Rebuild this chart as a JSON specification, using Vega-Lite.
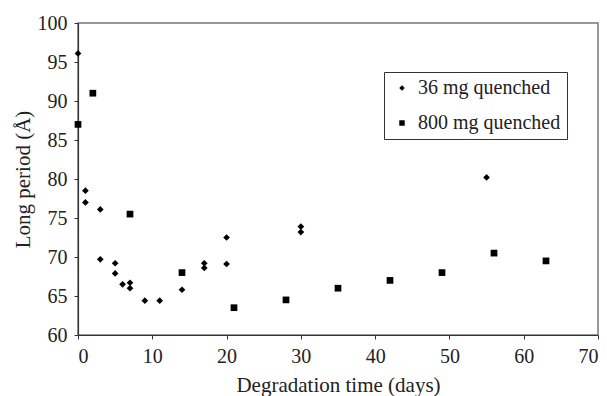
{
  "$schema": "https://vega.github.io/schema/vega-lite/v6.json",
  "autosize": "none",
  "width": 520,
  "height": 312,
  "padding": {"left": 78, "top": 23, "right": 9, "bottom": 61},
  "background": "white",
  "config": {
    "view": {"stroke": "#777", "strokeWidth": 1.5},
    "font": "Times New Roman, Liberation Serif, serif",
    "axis": {
      "grid": false,
      "domainColor": "#333",
      "domainWidth": 1.2,
      "tickColor": "#333",
      "tickSize": 4,
      "labelFont": "Times New Roman, Liberation Serif, serif",
      "titleFont": "Times New Roman, Liberation Serif, serif",
      "labelFontSize": 20,
      "titleFontSize": 21,
      "labelColor": "#222",
      "titleColor": "#222",
      "titleFontWeight": "normal",
      "labelPadding": 7
    },
    "legend": {
      "labelFont": "Times New Roman, Liberation Serif, serif"
    }
  },
  "data": {
    "values": [
      {"days": 0, "period": 96.1, "series": "36 mg quenched"},
      {"days": 1, "period": 78.5, "series": "36 mg quenched"},
      {"days": 1, "period": 77.0, "series": "36 mg quenched"},
      {"days": 3, "period": 76.1, "series": "36 mg quenched"},
      {"days": 3, "period": 69.7, "series": "36 mg quenched"},
      {"days": 5, "period": 69.2, "series": "36 mg quenched"},
      {"days": 5, "period": 67.9, "series": "36 mg quenched"},
      {"days": 6, "period": 66.5, "series": "36 mg quenched"},
      {"days": 7, "period": 66.7, "series": "36 mg quenched"},
      {"days": 7, "period": 66.0, "series": "36 mg quenched"},
      {"days": 9, "period": 64.4, "series": "36 mg quenched"},
      {"days": 11, "period": 64.4, "series": "36 mg quenched"},
      {"days": 14, "period": 65.8, "series": "36 mg quenched"},
      {"days": 17, "period": 69.2, "series": "36 mg quenched"},
      {"days": 17, "period": 68.6, "series": "36 mg quenched"},
      {"days": 20, "period": 72.5, "series": "36 mg quenched"},
      {"days": 20, "period": 69.1, "series": "36 mg quenched"},
      {"days": 30, "period": 73.9, "series": "36 mg quenched"},
      {"days": 30, "period": 73.2, "series": "36 mg quenched"},
      {"days": 55, "period": 80.2, "series": "36 mg quenched"},
      {"days": 0, "period": 87.0, "series": "800 mg quenched"},
      {"days": 2, "period": 91.0, "series": "800 mg quenched"},
      {"days": 7, "period": 75.5, "series": "800 mg quenched"},
      {"days": 14, "period": 68.0, "series": "800 mg quenched"},
      {"days": 21, "period": 63.5, "series": "800 mg quenched"},
      {"days": 28, "period": 64.5, "series": "800 mg quenched"},
      {"days": 35, "period": 66.0, "series": "800 mg quenched"},
      {"days": 42, "period": 67.0, "series": "800 mg quenched"},
      {"days": 49, "period": 68.0, "series": "800 mg quenched"},
      {"days": 56, "period": 70.5, "series": "800 mg quenched"},
      {"days": 63, "period": 69.5, "series": "800 mg quenched"}
    ]
  },
  "mark": {"type": "point", "filled": true, "opacity": 1, "color": "black", "size": 45},
  "encoding": {
    "x": {
      "field": "days",
      "type": "quantitative",
      "title": "Degradation time (days)",
      "scale": {"domain": [0, 70], "nice": false, "zero": false},
      "axis": {"values": [0, 10, 20, 30, 40, 50, 60, 70], "titlePadding": 8}
    },
    "y": {
      "field": "period",
      "type": "quantitative",
      "title": "Long period (Å)",
      "scale": {"domain": [60, 100], "nice": false, "zero": false},
      "axis": {"values": [60, 65, 70, 75, 80, 85, 90, 95, 100], "titlePadding": 4}
    },
    "shape": {
      "field": "series",
      "type": "nominal",
      "scale": {"domain": ["36 mg quenched", "800 mg quenched"], "range": ["diamond", "square"]},
      "legend": {
        "title": null,
        "orient": "none",
        "legendX": 306,
        "legendY": 49,
        "strokeColor": "#333",
        "fillColor": "white",
        "padding": 6,
        "symbolOffset": 2,
        "labelOffset": 6,
        "rowPadding": 15,
        "labelFontSize": 20,
        "labelColor": "#222",
        "symbolFillColor": "black",
        "symbolStrokeColor": "black",
        "symbolStrokeWidth": 0,
        "symbolSize": 30
      }
    }
  }
}
